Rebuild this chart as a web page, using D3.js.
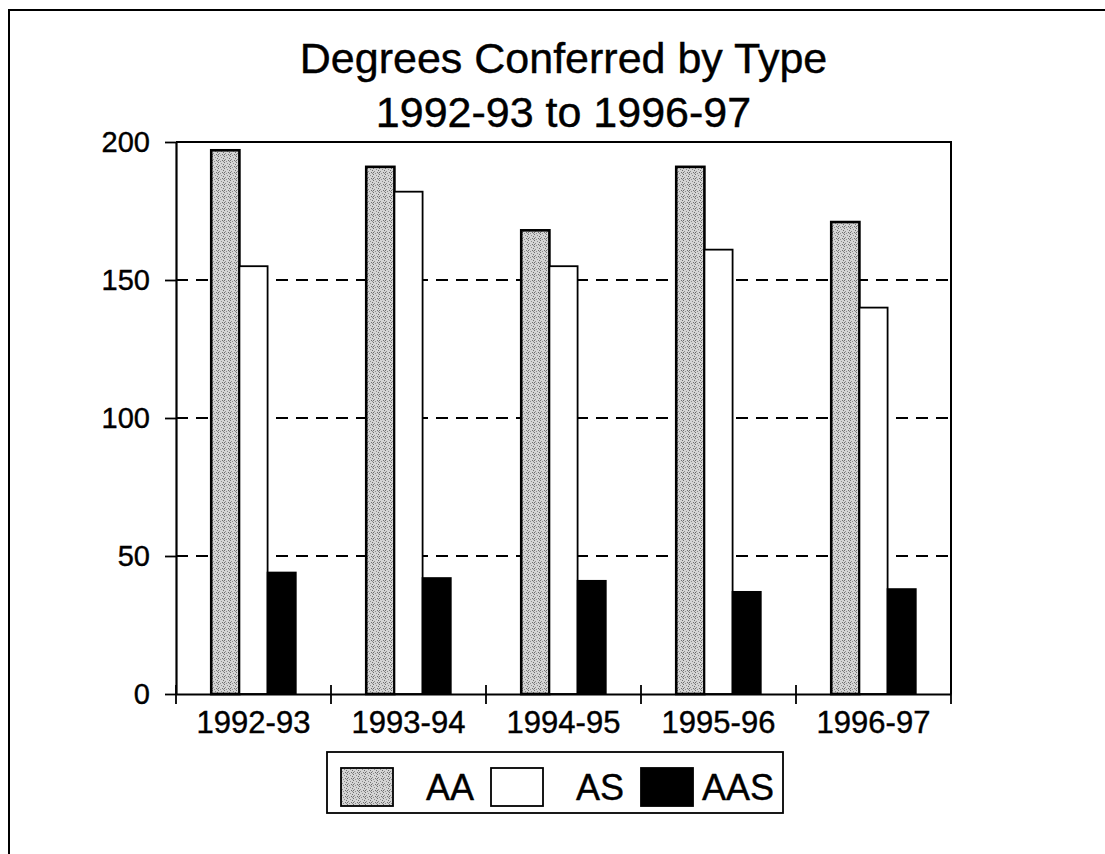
<!DOCTYPE html>
<html>
<head>
<meta charset="utf-8">
<script src="https://cdn.jsdelivr.net/npm/d3@7"></script>
<style>
  body { margin: 0; background: #fff; }
  svg { display: block; font-family: "Liberation Sans", Arial, sans-serif; }
  text { stroke: #000; stroke-width: 0.4px; fill: #000; }
</style>
</head>
<body>
<svg id="chart" width="1105" height="854"></svg>
<script>
// data
const years = ["1992-93", "1993-94", "1994-95", "1995-96", "1996-97"]
const series = ["AA", "AS", "AAS"]
const aa = [197, 191, 168, 191, 171]
const as = [155, 182, 155, 161, 140]
const aas = [44, 42, 41, 37, 38]
const yTicks = [0, 50, 100, 150, 200]
const titleLines = ["Degrees Conferred by Type", "1992-93 to 1996-97"]

const values = { AA: aa, AS: as, AAS: aas }

const plotL = 176, plotR = 951, plotT = 142, plotB = 694

const svg = d3.select("#chart")

// stippled grey for AA (fixed dot layout in a 6x6 tile)
const dots = [[0,0],[3,1],[5,2],[1,3],[4,4],[2,5],[0,4],[5,5]]
const defs = svg.append("defs")
const pat = defs.append("pattern")
  .attr("id", "stipple")
  .attr("width", 6).attr("height", 6)
  .attr("patternUnits", "userSpaceOnUse")
pat.append("rect").attr("width", 6).attr("height", 6).attr("fill", "#d4d4d4")
pat.selectAll("rect.dot")
  .data(dots)
  .join("rect")
  .attr("class", "dot")
  .attr("x", d => d[0]).attr("y", d => d[1])
  .attr("width", 1).attr("height", 1)
  .attr("fill", (d, i) => i % 2 ? "#8c8c8c" : "#6e6e6e")

const fills = { AA: "url(#stipple)", AS: "#fff", AAS: "#000" }

// outer frame (right and bottom run off the page)
svg.append("rect")
  .attr("x", 9).attr("y", 10)
  .attr("width", 1120).attr("height", 880)
  .attr("fill", "none").attr("stroke", "#000").attr("stroke-width", 2)

// title
svg.append("g")
  .selectAll("text")
  .data(titleLines)
  .join("text")
  .attr("x", (plotL + plotR) / 2)
  .attr("y", (d, i) => 73 + i * 54)
  .attr("text-anchor", "middle")
  .attr("font-size", 43)
  .text(d => d)

const x0 = d3.scaleBand().domain(years).range([plotL, plotR])
const x1 = d3.scaleBand().domain(series).range([0, x0.bandwidth()])
  .paddingInner(0).paddingOuter(1.25)
const y = d3.scaleLinear().domain([0, 200]).range([plotB, plotT])

// dashed grid
svg.append("g")
  .selectAll("line")
  .data(yTicks.filter(t => t > 0 && t < 200))
  .join("line")
  .attr("x1", plotL).attr("x2", plotR)
  .attr("y1", d => y(d)).attr("y2", d => y(d))
  .attr("stroke", "#000").attr("stroke-width", 1.8)
  .attr("stroke-dasharray", "12,8")

// plot frame top + right
svg.append("path")
  .attr("d", `M${plotL},${plotT}H${plotR}V${plotB}`)
  .attr("fill", "none").attr("stroke", "#000").attr("stroke-width", 2)

// bars
svg.append("g")
  .selectAll("g")
  .data(years)
  .join("g")
  .attr("transform", d => `translate(${x0(d)},0)`)
  .selectAll("rect")
  .data((d, i) => series.map(s => ({ s: s, v: values[s][i] })))
  .join("rect")
  .attr("x", d => x1(d.s))
  .attr("y", d => y(d.v))
  .attr("width", x1.bandwidth())
  .attr("height", d => y(0) - y(d.v))
  .attr("fill", d => fills[d.s])
  .attr("stroke", "#000")
  .attr("stroke-width", d => d.s == "AA" ? 2.6 : 1.8)

// y axis
const yAxis = svg.append("g")
  .attr("transform", `translate(${plotL},0)`)
  .call(d3.axisLeft(y).tickValues(yTicks).tickSize(11).tickSizeOuter(0).tickPadding(15))
yAxis.select(".domain").attr("stroke-width", 2.2)
yAxis.selectAll(".tick line").attr("stroke-width", 1.8)
yAxis.selectAll("text").attr("font-size", 29)

// x axis labels
const xAxis = svg.append("g")
  .attr("transform", `translate(0,${plotB})`)
  .call(d3.axisBottom(x0).tickSize(0).tickSizeOuter(0).tickPadding(17))
xAxis.select(".domain").attr("stroke-width", 2.2)
xAxis.selectAll("text").attr("font-size", 31)

// category separators on x axis
const edges = years.map(d => x0(d)).concat([x0(years[years.length - 1]) + x0.bandwidth()])
svg.append("g")
  .selectAll("line")
  .data(edges)
  .join("line")
  .attr("x1", d => d).attr("x2", d => d)
  .attr("y1", plotB - 9).attr("y2", plotB + 10)
  .attr("stroke", "#000").attr("stroke-width", 1.8)

// legend
const lg = svg.append("g")
lg.append("rect")
  .attr("x", 327).attr("y", 752)
  .attr("width", 456).attr("height", 61)
  .attr("fill", "#fff").attr("stroke", "#000").attr("stroke-width", 1.8)
const item = lg.selectAll("g")
  .data(series)
  .join("g")
  .attr("transform", (d, i) => `translate(${341 + i * 150},768)`)
item.append("rect")
  .attr("width", 52).attr("height", 38)
  .attr("fill", d => fills[d])
  .attr("stroke", "#000").attr("stroke-width", 1.8)
item.append("text")
  .attr("x", 133).attr("y", 32)
  .attr("text-anchor", "end")
  .attr("font-size", 36)
  .text(d => d)
</script>
</body>
</html>
